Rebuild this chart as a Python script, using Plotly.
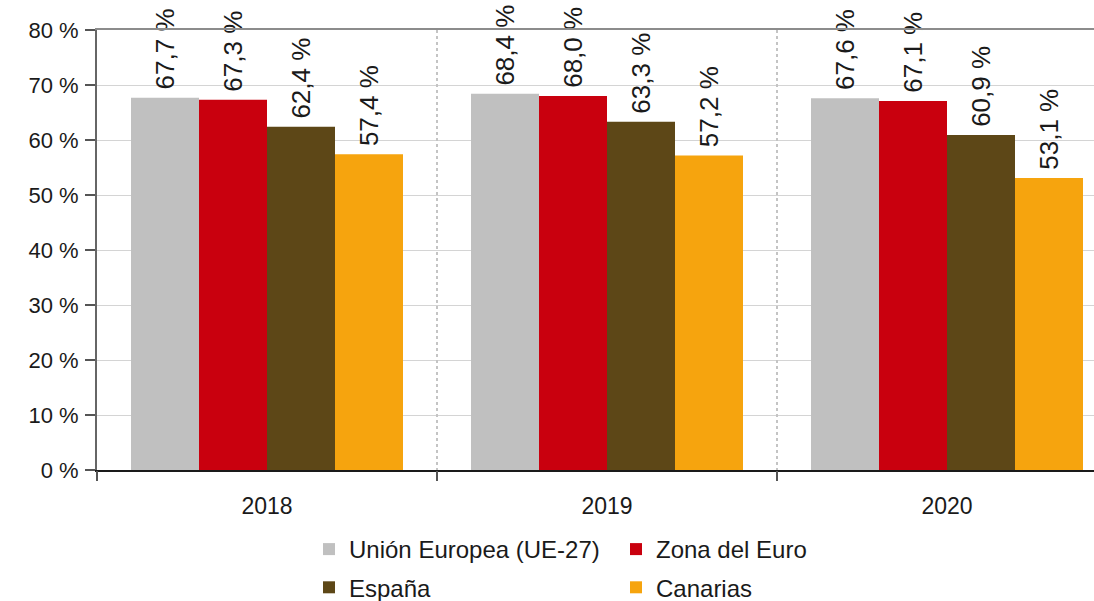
import plotly.graph_objects as go

years = ["2018", "2019", "2020"]
series_names = ["Unión Europea (UE-27)", "Zona del Euro", "España", "Canarias"]
ue27 = [67.7, 68.4, 67.6]
zona_euro = [67.3, 68.0, 67.1]
espana = [62.4, 63.3, 60.9]
canarias = [57.4, 57.2, 53.1]
colors = ["#c0c0c0", "#c9000e", "#5d4717", "#f6a40e"]
legend_slots = ["legend", "legend2", "legend", "legend2"]
y_ticks = [0, 10, 20, 30, 40, 50, 60, 70, 80]
y_tick_text = [f"{v} %" for v in y_ticks]
separators = [-0.5, 0.5, 1.5, 2.5]

FONT = "Liberation Sans"
xpos = list(range(len(years)))

def fmt(v):
    # leading thin space gives the rotated label a little more clearance above the bar
    return "\u2009" + f"{v:.1f}".replace(".", ",") + " %"

fig = go.Figure()
for name, vals, col, lg in zip(series_names, [ue27, zona_euro, espana, canarias], colors, legend_slots):
    fig.add_trace(go.Bar(
        x=xpos, y=vals, name=name, marker=dict(color=col, line=dict(width=0)),
        text=[fmt(v) for v in vals], textposition="outside", textangle=-90,
        textfont=dict(family=FONT, size=26, color="#1a1a1a"),
        constraintext="none", cliponaxis=False, legend=lg, legendgroup=name,
    ))

# empty helper traces so the overlay axes (category separators, top frame line) are drawn
for ax in ["x2", "x3"]:
    fig.add_trace(go.Scatter(x=[], y=[], xaxis=ax, yaxis="y", mode="markers",
                             showlegend=False, hoverinfo="skip"))

W, H = 1094, 601
ml, mt, mb = 97, 30, 131
cat_px = 340.0
plot_w = W - ml
plot_h = H - mt - mb
x_range = [-0.5, -0.5 + plot_w / cat_px]

def px_x(p):
    return (p - ml) / plot_w

def px_y(p):
    return (H - mb - p) / plot_h

legend_common = dict(
    orientation="v", xanchor="left", yanchor="top",
    font=dict(size=24, color="#1a1a1a"), tracegroupgap=4,
    bgcolor="rgba(0,0,0,0)",
)

fig.update_layout(
    width=W, height=H,
    margin=dict(l=ml, r=0, t=mt, b=mb, pad=0, autoexpand=False),
    paper_bgcolor="white", plot_bgcolor="white",
    barmode="group", bargap=0.2, bargroupgap=0,
    font=dict(family=FONT, size=22, color="#1a1a1a"),
    xaxis=dict(
        range=x_range, tickmode="array", tickvals=xpos, ticktext=years,
        ticks="", showgrid=False, zeroline=False,
        showline=True, linecolor="#1a1a1a", linewidth=2,
        tickfont=dict(size=23), ticklabelstandoff=14,
    ),
    xaxis2=dict(
        overlaying="x", anchor="y", range=x_range, side="bottom",
        tickmode="array", tickvals=separators,
        showticklabels=False, ticks="outside", ticklen=10, tickwidth=2,
        tickcolor="#555555", showgrid=True, gridcolor="#c4c4c4",
        griddash="dot", gridwidth=1.5, zeroline=False, showline=False,
    ),
    xaxis3=dict(
        overlaying="x", anchor="y", range=x_range, side="top", showticklabels=False,
        ticks="", showgrid=False, zeroline=False, showline=True,
        linecolor="#8c8c8c", linewidth=2,
    ),
    yaxis=dict(
        range=[0, 80], tickmode="array", tickvals=y_ticks, ticktext=y_tick_text,
        ticks="outside", ticklen=10, tickwidth=2, tickcolor="#555555",
        showline=True, linecolor="#666666", linewidth=2,
        showgrid=True, gridcolor="#d4d4d4", gridwidth=1, zeroline=False,
        ticklabelstandoff=2, tickfont=dict(size=22),
    ),
    legend=dict(x=px_x(309), y=px_y(527), **legend_common),
    legend2=dict(x=px_x(616), y=px_y(527), **legend_common),
    showlegend=True,
)

# remove the browser's default 8px body margin so the figure fills the window exactly
fig.write_html("out.html", config={"displayModeBar": False},
               post_script="document.body.style.margin='0';document.body.style.overflow='hidden';")
